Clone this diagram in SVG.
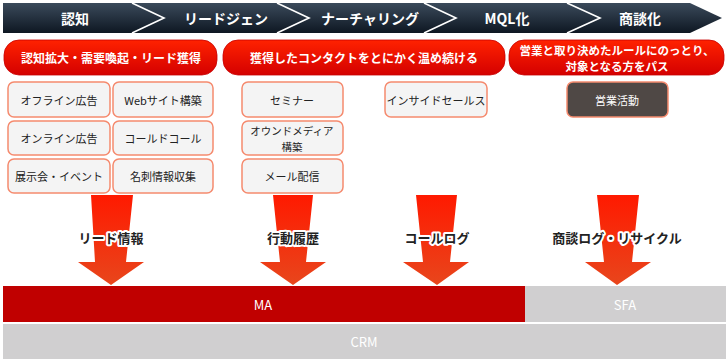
<svg xmlns="http://www.w3.org/2000/svg" width="728" height="362" viewBox="0 0 728 362">
<defs>
<linearGradient id="navy" x1="0" y1="0" x2="0" y2="1">
<stop offset="0" stop-color="#3b4a5b"/><stop offset="1" stop-color="#0e1722"/>
</linearGradient>
<linearGradient id="pill" x1="0" y1="0" x2="0" y2="1">
<stop offset="0" stop-color="#ff2200"/><stop offset="1" stop-color="#d40000"/>
</linearGradient>
<linearGradient id="arw" x1="0" y1="0" x2="0" y2="1">
<stop offset="0" stop-color="#ff1a00"/><stop offset="1" stop-color="#e8461c"/>
</linearGradient>
</defs>
<style>
text{font-family:"Noto Sans CJK JP","Noto Sans",sans-serif;text-anchor:middle;dominant-baseline:central}
.stage{fill:#fff;font-size:14px;font-weight:bold}
.sep{fill:none;stroke:#fff;stroke-width:1.6}
.pill{fill:url(#pill);stroke:#c80000;stroke-width:0.8}
.pt{fill:#fff;font-size:12px;font-weight:bold}
.pt2{fill:#fff;font-size:11.5px;font-weight:bold}
.box{fill:#f4f4f4;stroke:#f58a6e;stroke-width:1.5}
.bt{fill:#222;font-size:11px}
.bt2{fill:#222;font-size:10.5px}
.dark{fill:#4f4845;stroke:#f58a6e;stroke-width:1.5}
.arrow{fill:url(#arw)}
.al{fill:#222;font-size:13px;font-weight:bold;stroke:#fff;stroke-width:4;paint-order:stroke;stroke-linejoin:round}
.sys{fill:#fff;font-size:13px}
</style>

<g id="stages">
<polygon points="3,3 690,3 722,18 690,33 3,33" fill="url(#navy)"/>
<polyline class="sep" points="132,3 164,18 132,33"/>
<polyline class="sep" points="277,3 309,18 277,33"/>
<polyline class="sep" points="424,3 456,18 424,33"/>
<polyline class="sep" points="567,3 600,18 567,33"/>
<text class="stage" x="75" y="18">認知</text>
<text class="stage" x="226" y="18">リードジェン</text>
<text class="stage" x="370" y="18">ナーチャリング</text>
<text class="stage" x="507" y="18">MQL化</text>
<text class="stage" x="640" y="18">商談化</text>
</g>

<g id="pill1"><rect class="pill" x="4" y="40" width="213" height="35" rx="15"/><text class="pt" x="111" y="57.5">認知拡大・需要喚起・リード獲得</text></g>
<g id="pill2"><rect class="pill" x="223" y="40" width="282" height="35" rx="15"/><text class="pt" x="364" y="57.5">獲得したコンタクトをとにかく温め続ける</text></g>
<g id="pill3"><rect class="pill" x="509" y="40" width="215" height="35" rx="15"/><text class="pt2" x="617" y="49.5">営業と取り決めたルールにのっとり、</text><text class="pt2" x="617" y="66">対象となる方をパス</text></g>

<g id="arrows">
<polygon class="arrow" points="91,195 133,195 126,262 144,262 111,285 78,262 95,262"/>
<polygon class="arrow" points="273,195 313,195 306,262 326,262 293,285 260,262 280,262"/>
<polygon class="arrow" points="416,195 457,195 450,262 469,262 437,285 403,262 423,262"/>
<polygon class="arrow" points="597,195 639,195 632,262 651,262 617,285 585,262 604,262"/>
</g>

<g id="b1"><rect class="box" x="8" y="82" width="102" height="35" rx="6"/><text class="bt" x="59" y="99.5">オフライン広告</text></g>
<g id="b2"><rect class="box" x="113" y="82" width="100" height="35" rx="6"/><text class="bt" x="163" y="99.5">Webサイト構築</text></g>
<g id="b3"><rect class="box" x="8" y="121" width="102" height="34" rx="6"/><text class="bt" x="59" y="138">オンライン広告</text></g>
<g id="b4"><rect class="box" x="113" y="121" width="100" height="34" rx="6"/><text class="bt" x="163" y="138">コールドコール</text></g>
<g id="b5"><rect class="box" x="8" y="159" width="102" height="34" rx="6"/><text class="bt" x="59" y="176">展示会・イベント</text></g>
<g id="b6"><rect class="box" x="113" y="159" width="100" height="34" rx="6"/><text class="bt" x="163" y="176">名刺情報収集</text></g>
<g id="b7"><rect class="box" x="242" y="82" width="101" height="35" rx="6"/><text class="bt" x="292" y="99.5">セミナー</text></g>
<g id="b8"><rect class="box" x="242" y="121" width="101" height="34" rx="6"/><text class="bt2" x="292" y="130">オウンドメディア</text><text class="bt2" x="292" y="146">構築</text></g>
<g id="b9"><rect class="box" x="242" y="159" width="101" height="34" rx="6"/><text class="bt" x="292" y="176">メール配信</text></g>
<g id="b10"><rect class="box" x="385" y="82" width="102" height="35" rx="6"/><text class="bt" x="436" y="99.5">インサイドセールス</text></g>
<g id="b11"><rect class="dark" x="567" y="82" width="101" height="35" rx="6"/><text class="bt" x="617" y="99.5" style="fill:#fff">営業活動</text></g>

<g id="arrow-labels">
<text class="al" x="111" y="237">リード情報</text>
<text class="al" x="293" y="237">行動履歴</text>
<text class="al" x="437" y="237">コールログ</text>
<text class="al" x="617" y="237">商談ログ・リサイクル</text>
</g>

<g id="ma"><rect x="3" y="286" width="522" height="36" fill="#c00000"/><text class="sys" x="263" y="304">MA</text></g>
<g id="sfa"><rect x="525" y="286" width="201" height="36" fill="#d0cfd0"/><text class="sys" x="625" y="304">SFA</text></g>
<g id="crm"><rect x="3" y="324" width="723" height="35" fill="#d0cfd0"/><text class="sys" x="364" y="341.5">CRM</text></g>
</svg>
